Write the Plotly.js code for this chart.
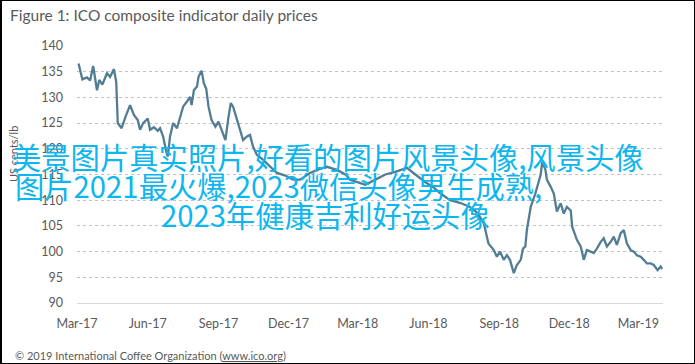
<!DOCTYPE html>
<html>
<head>
<meta charset="utf-8">
<script src="https://cdn.plot.ly/plotly-3.0.1.min.js"></script>
<style>
  html, body { margin: 0; padding: 0; background: #fff; }
  #wrap { position: relative; width: 695px; height: 364px; }
  #chart { width: 695px; height: 364px; }
  #frame { position: absolute; left: 0; top: 0; width: 695px; height: 364px; box-sizing: border-box;
           border-top: 1px solid #000; border-bottom: 1px solid #000; border-left: 2px solid #000; border-right: 1px solid #000;
           pointer-events: none; }
</style>
</head>
<body>
<div id="wrap"><div id="chart"></div><div id="frame"></div></div>
<script>
// ICO composite indicator daily prices (US cents/lb)
const dates = [
  '2017-03-03','2017-03-05','2017-03-08','2017-03-14','2017-03-18','2017-03-22','2017-03-27','2017-03-30',
  '2017-04-03','2017-04-09','2017-04-13','2017-04-18','2017-04-21','2017-04-23','2017-04-28',
  '2017-05-03','2017-05-09','2017-05-14','2017-05-19','2017-05-22','2017-05-26',
  '2017-06-01','2017-06-04','2017-06-09','2017-06-14','2017-06-17','2017-06-21','2017-06-25','2017-06-27','2017-06-30',
  '2017-07-04','2017-07-09','2017-07-13','2017-07-17','2017-07-22','2017-07-26','2017-07-28','2017-07-31',
  '2017-08-04','2017-08-06','2017-08-10','2017-08-13','2017-08-16','2017-08-19','2017-08-23','2017-08-28',
  '2017-09-01','2017-09-05','2017-09-10','2017-09-14','2017-09-17','2017-09-20','2017-09-25','2017-09-29',
  '2017-10-03','2017-10-08','2017-10-12','2017-10-16','2017-10-21','2017-10-28',
  '2017-11-05','2017-11-16','2017-11-27','2017-12-07','2017-12-16','2017-12-29',
  '2018-01-09','2018-01-20','2018-02-02','2018-02-13','2018-02-19','2018-02-28',
  '2018-03-11','2018-03-24','2018-04-06','2018-04-19','2018-05-04','2018-05-15','2018-05-28',
  '2018-06-07','2018-06-16','2018-06-29','2018-07-12','2018-07-25',
  '2018-08-04','2018-08-12','2018-08-18','2018-08-25','2018-08-29',
  '2018-09-02','2018-09-07','2018-09-11','2018-09-15','2018-09-20','2018-09-24','2018-09-29',
  '2018-10-02','2018-10-05','2018-10-07','2018-10-12','2018-10-18','2018-10-25','2018-10-27','2018-10-31',
  '2018-11-02','2018-11-07','2018-11-11','2018-11-15','2018-11-20','2018-11-24','2018-11-28',
  '2018-12-03','2018-12-05','2018-12-11','2018-12-16','2018-12-20','2018-12-24','2018-12-29',
  '2019-01-02','2019-01-06','2019-01-11','2019-01-15','2019-01-19','2019-01-24','2019-01-28',
  '2019-02-01','2019-02-06','2019-02-10','2019-02-14','2019-02-19','2019-02-23','2019-02-27',
  '2019-03-04','2019-03-08','2019-03-12','2019-03-17','2019-03-21','2019-03-26','2019-03-30','2019-04-01'
];
const prices = [
  136.6,135.3,133.5,133.9,133.3,136.1,131.4,133.4,
  132.5,134.7,134.0,135.5,133.0,125.0,124.0,
  126.2,128.5,126.6,125.6,123.7,125.0,
  125.9,123.7,124.2,123.5,124.0,122.4,119.5,118.5,122.4,
  125.0,124.0,125.9,128.2,129.2,130.1,128.5,131.4,
  132.1,134.0,135.2,132.7,131.7,128.2,125.6,124.3,
  125.3,123.7,121.7,126.2,128.9,128.2,125.6,123.7,
  121.7,122.4,122.7,120.4,118.8,118.0,
  116.8,115.3,114.8,114.0,114.0,115.3,
  116.0,116.5,115.9,115.0,114.0,113.5,
  113.0,114.0,115.0,115.5,116.3,115.0,113.5,
  112.6,111.4,110.0,109.5,108.7,
  107.5,105.5,101.6,100.3,99.0,
  100.0,98.4,99.3,98.4,95.8,97.4,98.4,
  100.6,101.0,104.2,108.7,111.3,115.0,117.5,116.0,
  114.0,112.6,111.3,107.8,109.4,107.4,108.7,
  108.0,104.8,102.3,101.0,98.4,100.3,100.0,
  99.7,100.6,101.9,102.6,101.0,101.9,102.9,
  101.3,103.6,104.2,101.6,100.3,100.0,99.3,
  99.0,98.4,97.7,97.7,97.4,96.4,97.1,96.6
];
const xTickVals = ['2017-03-01','2017-06-01','2017-09-01','2017-12-01','2018-03-01','2018-06-01','2018-09-01','2018-12-01','2019-03-01'];
const xTickText = ['Mar-17','Jun-17','Sep-17','Dec-17','Mar-18','Jun-18','Sep-18','Dec-18','Mar-19'];
const yTickVals = [90,95,100,105,110,115,120,125,130,135,140];

const chartTitle = 'Figure 1: ICO composite indicator daily prices';
const yLabel = 'US cents/lb';
const footer = '© 2019 International Coffee Organization (<u>www.ico.org</u>)';
const overlayLines = [
  '美景图片真实照片,好看的图片风景头像,风景头像',
  '图片2021最火爆,2023微信头像男生成熟,',
  '2023年健康吉利好运头像'
];

const L = 77, R = 663, T = 46, B = 303;
const px = x => (x - L) / (R - L);
const py = y => (B - y) / (B - T);
const grey = '#595959';
const cjk = { family: '"Noto Sans CJK SC", sans-serif', size: 29.3, color: '#0db6ee' };

const trace = {
  x: dates, y: prices, type: 'scatter', mode: 'lines',
  line: { color: '#527d93', width: 2.3 },
  hoverinfo: 'skip'
};

const layout = {
  width: 695, height: 364,
  margin: { l: L, r: 695 - R, t: T, b: 364 - B, pad: 0 },
  paper_bgcolor: '#fff', plot_bgcolor: '#fff',
  showlegend: false,
  font: { family: 'Lato, "Open Sans", sans-serif', color: grey, size: 12 },
  xaxis: {
    type: 'date', range: ['2017-03-01', '2019-04-02'],
    tickvals: xTickVals, ticktext: xTickText,
    showgrid: false, zeroline: false,
    showline: true, linecolor: '#d9d9d9', linewidth: 1,
    ticks: '', ticklabelstandoff: 9,
    tickfont: { size: 12.5, color: grey }
  },
  yaxis: {
    range: [90, 140], tickvals: yTickVals,
    showgrid: true, gridcolor: '#c2c2c2', griddash: 'dot', gridwidth: 1,
    zeroline: false, showline: false, ticks: '', ticklabelstandoff: 13,
    tickfont: { size: 12.5, color: grey }
  },
  annotations: [
    { text: chartTitle, xref: 'paper', yref: 'paper', x: px(8), y: py(15), xanchor: 'left', yanchor: 'middle',
      showarrow: false, font: { size: 15.5, color: grey, family: 'Lato, sans-serif' } },
    { text: yLabel, xref: 'paper', yref: 'paper', x: px(13), y: py(154), xanchor: 'center', yanchor: 'middle',
      textangle: -90, showarrow: false, font: { size: 11, color: grey } },
    { text: footer, xref: 'paper', yref: 'paper', x: px(13), y: py(355), xanchor: 'left', yanchor: 'middle',
      showarrow: false, font: { size: 11, color: grey } },
    { text: overlayLines[0], xref: 'paper', yref: 'paper', x: px(10), y: py(155.5), xanchor: 'left', yanchor: 'middle',
      showarrow: false, font: cjk },
    { text: overlayLines[1], xref: 'paper', yref: 'paper', x: px(13), y: py(184.5), xanchor: 'left', yanchor: 'middle',
      showarrow: false, font: cjk },
    { text: overlayLines[2], xref: 'paper', yref: 'paper', x: px(159), y: py(214), xanchor: 'left', yanchor: 'middle',
      showarrow: false, font: cjk }
  ]
};

Plotly.newPlot('chart', [trace], layout, { staticPlot: true, displayModeBar: false });
</script>
</body>
</html>
